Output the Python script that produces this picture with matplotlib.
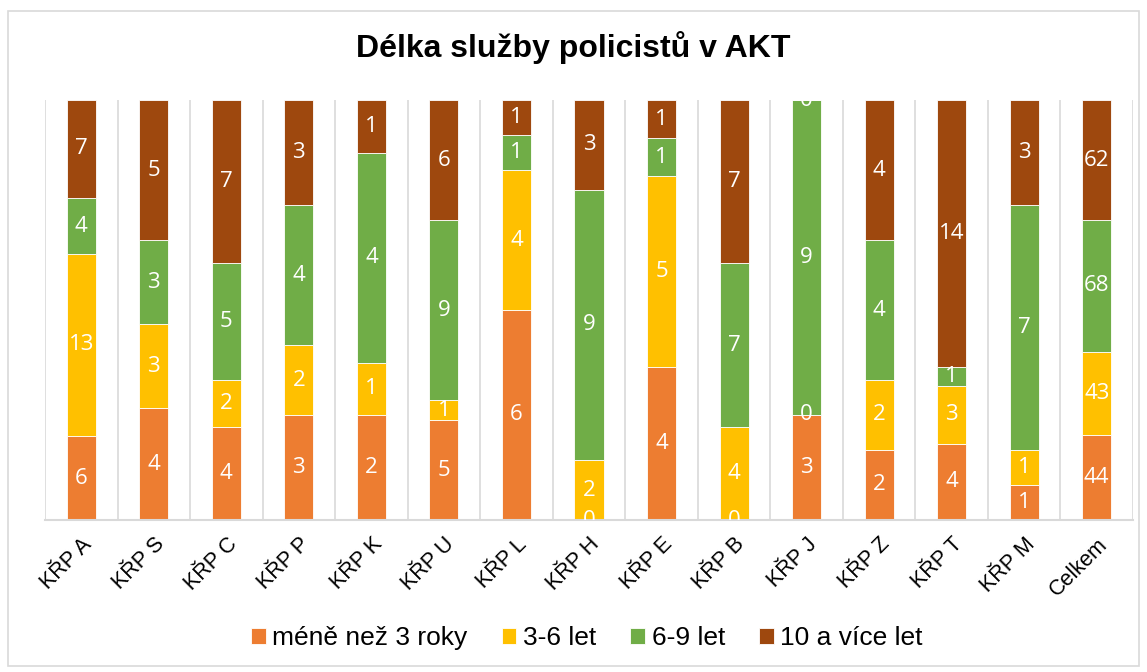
import numpy as np
import matplotlib.pyplot as plt
from matplotlib.patches import Rectangle

categories = ['KŘP A', 'KŘP S', 'KŘP C', 'KŘP P', 'KŘP K', 'KŘP U', 'KŘP L',
              'KŘP H', 'KŘP E', 'KŘP B', 'KŘP J', 'KŘP Z', 'KŘP T', 'KŘP M',
              'Celkem']
series_names = ['méně než 3 roky', '3-6 let', '6-9 let', '10 a více let']
under_3 = [6, 4, 4, 3, 2, 5, 6, 0, 4, 0, 3, 2, 4, 1, 44]
y3_6 = [13, 3, 2, 2, 1, 1, 4, 2, 5, 4, 0, 2, 3, 1, 43]
y6_9 = [4, 3, 5, 4, 4, 9, 1, 9, 1, 7, 9, 4, 1, 7, 68]
over_10 = [7, 5, 7, 3, 1, 6, 1, 3, 1, 7, 0, 4, 14, 3, 62]
colors = ['#ED7D31', '#FFC000', '#70AD47', '#9E480E']

data = np.array([under_3, y3_6, y6_9, over_10], dtype=float)
shares = data / data.sum(axis=0)

fig = plt.figure(figsize=(11.47, 6.72), dpi=100)
ax = fig.add_axes([45 / 1147, 1 - 520 / 672, 1088 / 1147, 420 / 672])

x = np.arange(len(categories))
bottom = np.zeros(len(categories))
for i, name in enumerate(series_names):
    ax.bar(x, shares[i], 0.4, bottom=bottom, color=colors[i], label=name,
           edgecolor='white', linewidth=0.6, zorder=2)
    for xi, b, h, v in zip(x, bottom, shares[i], data[i]):
        ax.text(xi, b + h / 2, f'{int(v)}', ha='center', va='center',
                color='white', fontsize=16, family='Open Sans',
                clip_on=True, zorder=3)
    bottom += shares[i]

ax.set_xlim(-0.5, len(categories) - 0.5)
ax.set_ylim(0, 1)
ax.set_yticks([])
ax.set_xticks(x)
ax.set_xticklabels(categories, rotation=45, ha='right', rotation_mode='anchor',
                   fontsize=15.5, family='Liberation Sans')
ax.tick_params(axis='x', length=0, pad=10)
for xb in np.arange(-0.5, len(categories), 1.0):
    ax.axvline(xb, color='#D9D9D9', linewidth=1.2, zorder=1)
for side in ['top', 'left', 'right']:
    ax.spines[side].set_visible(False)
ax.spines['bottom'].set_color('#D9D9D9')
ax.spines['bottom'].set_linewidth(1.5)

fig.text(0.5, 1 - 48 / 672, 'Délka služby policistů v AKT', ha='center',
         va='center', fontsize=23, fontweight='bold', family='Liberation Sans')

fig.legend(loc='center', bbox_to_anchor=(587 / 1147, 1 - 638 / 672), ncol=4,
           frameon=False, prop={'family': 'Liberation Sans', 'size': 19},
           handlelength=0.55, handleheight=0.55, handletextpad=0.25,
           columnspacing=1.3)

fig.patches.append(Rectangle((8 / 1147, 6 / 672), 1131 / 1147, 655 / 672,
                             transform=fig.transFigure, fill=False,
                             edgecolor='#D9D9D9', linewidth=1.2))

fig.savefig('out.png')
